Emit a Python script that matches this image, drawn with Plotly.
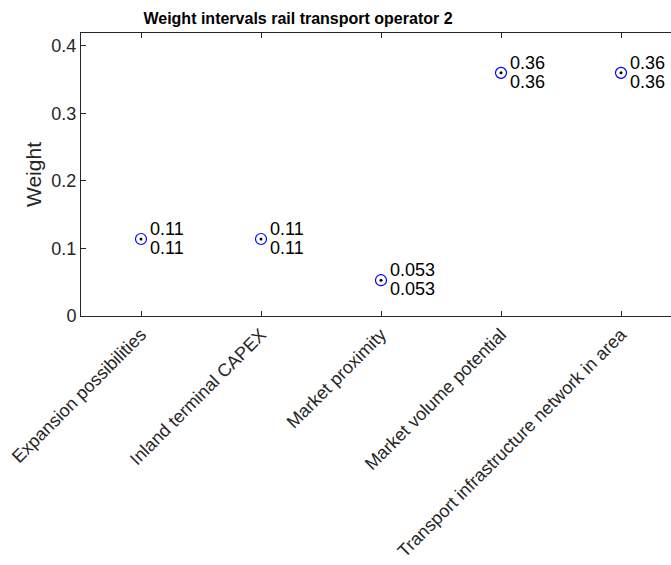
import plotly.graph_objects as go

# Criteria and their weight intervals
criteria = [
    "Expansion possibilities",
    "Inland terminal CAPEX",
    "Market proximity",
    "Market volume potential",
    "Transport infrastructure network in area",
]
weight = [0.114, 0.114, 0.053, 0.36, 0.36]
lower = [0.114, 0.114, 0.053, 0.36, 0.36]
upper = [0.114, 0.114, 0.053, 0.36, 0.36]

xpos = list(range(1, len(criteria) + 1))
FONT = "Liberation Sans, Arial, sans-serif"
AX = "#262626"

fig = go.Figure()
fig.add_trace(go.Scatter(
    x=xpos, y=weight, mode="markers",
    marker=dict(symbol="circle-open", size=11, color="#0000ff", line=dict(width=1.2)),
    hoverinfo="skip", showlegend=False,
))
fig.add_trace(go.Scatter(
    x=xpos, y=weight, mode="markers",
    marker=dict(symbol="circle", size=3, color="black"),
    hoverinfo="skip", showlegend=False,
))

# upper bound label above, lower bound label below, both right of the marker
annotations = []
for xi, lo, up in zip(xpos, lower, upper):
    annotations.append(dict(x=xi, y=up, text=f"{up:.2g}", showarrow=False,
                            xanchor="left", yanchor="bottom", xshift=8, yshift=2,
                            height=14, borderpad=0, valign="middle",
                            font=dict(family=FONT, size=18, color="black")))
    annotations.append(dict(x=xi, y=lo, text=f"{lo:.2g}", showarrow=False,
                            xanchor="left", yanchor="top", xshift=8, yshift=-1,
                            height=14, borderpad=0, valign="middle",
                            font=dict(family=FONT, size=18, color="black")))

fig.update_layout(
    width=671, height=565,
    margin=dict(l=81, r=0, t=33, b=249),
    paper_bgcolor="white", plot_bgcolor="white",
    font=dict(family=FONT, size=18, color=AX),
    title=dict(text="<b>Weight intervals rail transport operator 2</b>",
               x=298 / 671, xanchor="center",
               y=1 - 18 / 565, yanchor="middle",
               font=dict(family=FONT, size=16, color="black")),
    annotations=annotations,
)
fig.update_xaxes(
    range=[0.5, 0.5 + 590 / 120],
    tickmode="array", tickvals=xpos, ticktext=criteria, tickangle=-45,
    ticks="inside", ticklen=5, tickcolor=AX, tickwidth=1,
    showline=True, linecolor=AX, linewidth=1, mirror="ticks",
    showgrid=False, zeroline=False,
    tickfont=dict(family=FONT, size=18, color=AX),
)
fig.update_yaxes(
    range=[0, 0.419],
    tickvals=[0, 0.1, 0.2, 0.3, 0.4], ticktext=["0", "0.1", "0.2", "0.3", "0.4"],
    ticks="inside", ticklen=5, tickcolor=AX, tickwidth=1,
    showline=True, linecolor=AX, linewidth=1, mirror=False,
    showgrid=False, zeroline=False,
    tickfont=dict(family=FONT, size=18, color=AX),
    title=dict(text="Weight", font=dict(family=FONT, size=21, color=AX), standoff=4),
)

fig.write_html("out.html")
